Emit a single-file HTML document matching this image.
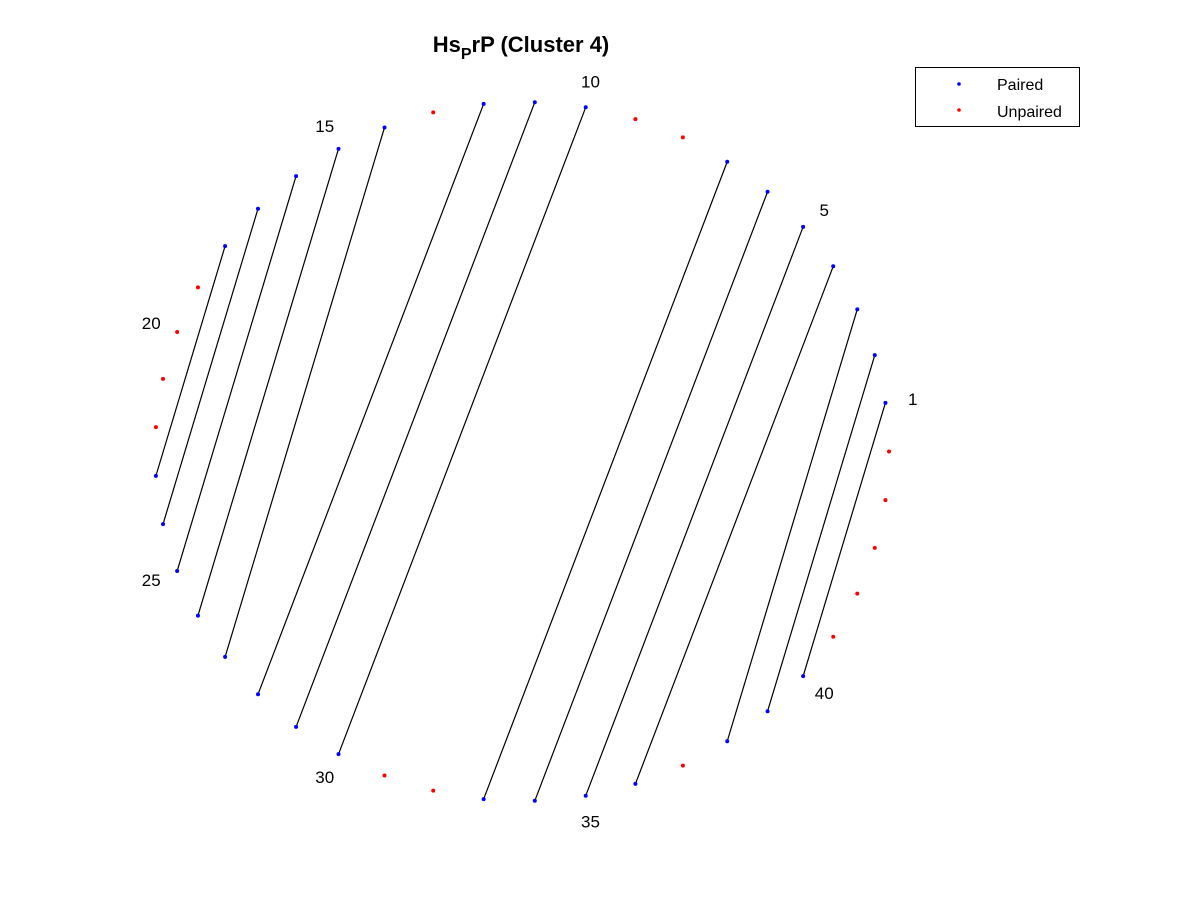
<!DOCTYPE html>
<html><head><meta charset="utf-8"><style>
body{margin:0;background:#fff;}
svg{display:block;font-family:"Liberation Sans",Arial,sans-serif;}
</style></head><body>
<svg id="chart" width="1200" height="900">
<text x="521" y="52" text-anchor="middle" font-size="22" font-weight="bold">Hs<tspan font-size="16" dy="7">P</tspan><tspan dy="-7">rP (Cluster 4)</tspan></text>
<g id="lines"></g>
<g id="points"></g>
<g id="labels"></g>
<g>
<rect x="915.5" y="67.5" width="164" height="59" fill="#fff" stroke="#000"/>
<circle cx="959" cy="84" r="1.8" fill="#00f"/>
<text x="997" y="90" font-size="16">Paired</text>
<circle cx="959" cy="110" r="1.8" fill="#f00"/>
<text x="997" y="117" font-size="16">Unpaired</text>
</g>
</svg>
<script>
const nPositions = 45;
const pairs = [[1,40],[2,39],[3,38],[4,36],[5,35],[6,34],[7,33],[10,30],[11,29],[12,28],[14,27],[15,26],[16,25],[17,24],[18,23]];
const labelPositions = [1,5,10,15,20,25,30,35,40];
const NS = "http://www.w3.org/2000/svg";
const cx = 522, cy = 451.5, rx = 367, ry = 349.5;
function pos(k, f) { const a = k * 2 * Math.PI / nPositions; return [cx + rx * f * Math.cos(a), cy - ry * f * Math.sin(a)]; }
const paired = new Set();
pairs.forEach(p => { paired.add(p[0]); paired.add(p[1]); });
const lg = document.getElementById('lines');
pairs.forEach(p => {
  const a = pos(p[0], 1), b = pos(p[1], 1);
  const l = document.createElementNS(NS, 'line');
  l.setAttribute('x1', a[0]); l.setAttribute('y1', a[1]); l.setAttribute('x2', b[0]); l.setAttribute('y2', b[1]);
  l.setAttribute('stroke', '#000'); l.setAttribute('stroke-width', '1.2');
  
  
  lg.appendChild(l);
});
const pg = document.getElementById('points');
for (let k = 1; k <= nPositions; k++) {
  const a = pos(k, 1);
  const c = document.createElementNS(NS, 'circle');
  c.setAttribute('cx', a[0]); c.setAttribute('cy', a[1]); c.setAttribute('r', '2');
  c.setAttribute('fill', paired.has(k) ? '#00f' : '#f00');
  
  
  pg.appendChild(c);
}
const tg = document.getElementById('labels');
labelPositions.forEach(k => {
  const a = pos(k, 1.075);
  const t = document.createElementNS(NS, 'text');
  t.setAttribute('x', a[0]); t.setAttribute('y', a[1] + 6);
  t.setAttribute('text-anchor', 'middle'); t.setAttribute('font-size', '17');
  t.textContent = k;
  
  
  tg.appendChild(t);
});
</script>
</body></html>
